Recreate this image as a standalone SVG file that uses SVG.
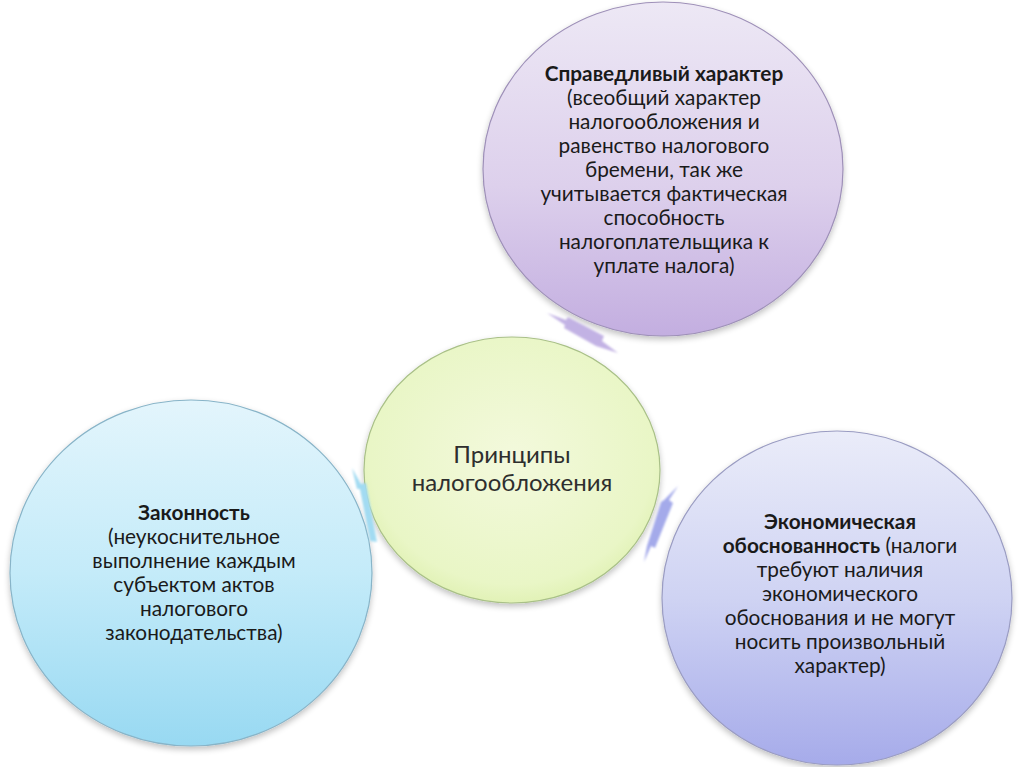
<svg xmlns="http://www.w3.org/2000/svg" width="1024" height="767" viewBox="0 0 1024 767">
<defs>
<linearGradient id="gTop" x1="0" y1="0" x2="0" y2="1"><stop offset="0" stop-color="#ede8f5"/><stop offset="0.55" stop-color="#ddd0ec"/><stop offset="1" stop-color="#c3aee0"/></linearGradient>
<radialGradient id="gCenter" cx="0.5" cy="0.45" r="0.6"><stop offset="0" stop-color="#f3f9dc"/><stop offset="0.8" stop-color="#e9f6c6"/><stop offset="1" stop-color="#dcefab"/></radialGradient>
<linearGradient id="gLeft" x1="0" y1="0" x2="0" y2="1"><stop offset="0" stop-color="#e3f5fc"/><stop offset="0.5" stop-color="#c4ebf9"/><stop offset="1" stop-color="#98d9f2"/></linearGradient>
<linearGradient id="gRight" x1="0" y1="0" x2="0" y2="1"><stop offset="0" stop-color="#eaecf9"/><stop offset="0.5" stop-color="#cfd3f3"/><stop offset="1" stop-color="#a6abea"/></linearGradient>
<filter id="shadow" x="-10%" y="-10%" width="120%" height="125%"><feGaussianBlur in="SourceAlpha" stdDeviation="3"/><feOffset dy="3"/><feComponentTransfer><feFuncA type="linear" slope="0.25"/></feComponentTransfer><feMerge><feMergeNode/><feMergeNode in="SourceGraphic"/></feMerge></filter>
<filter id="soft" x="-30%" y="-30%" width="160%" height="160%"><feGaussianBlur stdDeviation="0.8"/></filter>
</defs>
<style>
.c{stroke-width:1.2;filter:url(#shadow)}
.t{font-family:Lato,"Open Sans","Liberation Sans",sans-serif;font-size:20.8px;fill:#1a1a1a;text-anchor:middle}
.b{font-weight:bold}
.m{font-family:Lato,"Open Sans","Liberation Sans",sans-serif;font-size:24px;fill:#2e2e2e;text-anchor:middle}
.a{filter:url(#soft)}
</style>
<g id="top">
<ellipse class="c" cx="663" cy="169" rx="180" ry="167" fill="url(#gTop)" stroke="#9e90b8"/>
<text class="t b" x="664" y="81">Справедливый характер</text>
<text class="t" x="664" y="105">(всеобщий характер</text>
<text class="t" x="664" y="129">налогообложения и</text>
<text class="t" x="664" y="153">равенство налогового</text>
<text class="t" x="664" y="177">бремени, так же</text>
<text class="t" x="664" y="201">учитывается фактическая</text>
<text class="t" x="664" y="225">способность</text>
<text class="t" x="664" y="249">налогоплательщика к</text>
<text class="t" x="664" y="273">уплате налога)</text>
</g>
<g id="center">
<ellipse class="c" cx="512" cy="470" rx="148" ry="133" fill="url(#gCenter)" stroke="#a9c088"/>
<text class="m" x="512" y="463">Принципы</text>
<text class="m" x="512" y="491">налогообложения</text>
</g>
<g id="left">
<ellipse class="c" cx="191" cy="573" rx="181" ry="173" fill="url(#gLeft)" stroke="#88b4c8"/>
<text class="t b" x="194" y="520">Законность</text>
<text class="t" x="194" y="544">(неукоснительное</text>
<text class="t" x="194" y="568">выполнение каждым</text>
<text class="t" x="194" y="592">субъектом актов</text>
<text class="t" x="194" y="616">налогового</text>
<text class="t" x="194" y="640">законодательства)</text>
</g>
<g id="right">
<ellipse class="c" cx="837" cy="598" rx="175" ry="167" fill="url(#gRight)" stroke="#9a9cc2"/>
<text class="t b" x="840" y="529">Экономическая</text>
<text class="t" x="840" y="553"><tspan class="b">обоснованность</tspan> (налоги</text>
<text class="t" x="840" y="577">требуют наличия</text>
<text class="t" x="840" y="601">экономического</text>
<text class="t" x="840" y="625">обоснования и не могут</text>
<text class="t" x="840" y="649">носить произвольный</text>
<text class="t" x="840" y="673">характер)</text>
</g>
<g id="connectors">
<path class="a" d="M547,313 L566,320 L568,317 L604,336 L602,341 L618,353 L596,346 L564,328 L565,325 Z" fill="#c2b2e4"/>
<path class="a" d="M352,468 L361,484 L366,483 L377,542 L370,541 L360,489 L357,489 Z" fill="#a2dbf2"/>
<path class="a" d="M678,486 L669,500 L673,503 L655,548 L651,546 L644,562 L647,546 L661,502 L664,500 Z" fill="#a4aaea"/>
</g>
</svg>
